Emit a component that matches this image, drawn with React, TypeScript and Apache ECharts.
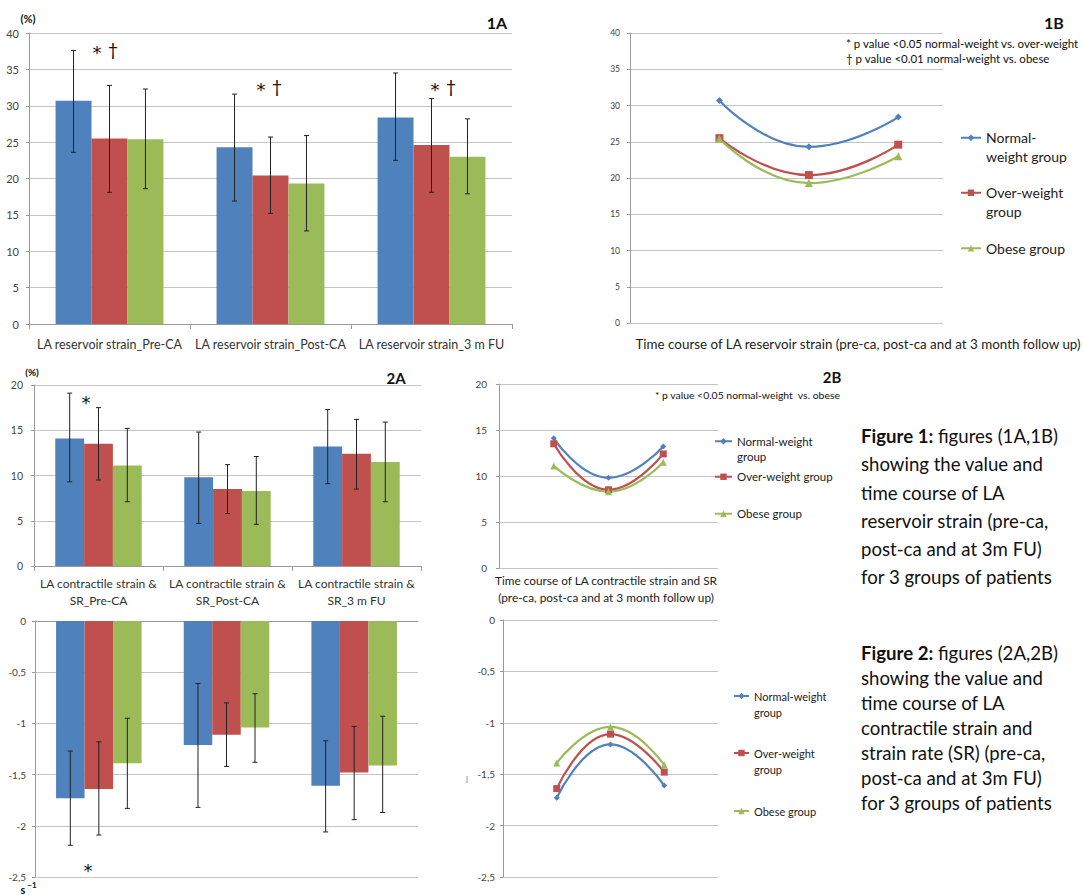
import React, { useEffect, useRef } from "react";
import * as echarts from "echarts";

const FONT = 'Lato, "Open Sans", sans-serif';
const STAR_FONT = '"DejaVu Sans", sans-serif';

// ---- Data ----
const groupNames = ["Normal-weight group", "Over-weight group", "Obese group"];
const groupColors = ["#4F81BD", "#C0504D", "#9BBB59"];
const groupSymbols = ["diamond", "rect", "triangle"];

const reservoirCategories = ["LA reservoir strain_Pre-CA", "LA reservoir strain_Post-CA", "LA reservoir strain_3 m FU"];
const reservoirNormal = [30.7, 24.3, 28.4];
const reservoirOver = [25.5, 20.4, 24.6];
const reservoirObese = [25.4, 19.3, 23.0];
const reservoirNormalErr = [[23.6, 37.6], [16.9, 31.6], [22.5, 34.5]];
const reservoirOverErr = [[18.1, 32.8], [15.2, 25.7], [18.1, 31.0]];
const reservoirObeseErr = [[18.6, 32.3], [12.8, 25.9], [17.9, 28.2]];

const contractileCategories = ["LA contractile strain &\nSR_Pre-CA", "LA contractile strain &\nSR_Post-CA", "LA contractile strain &\nSR_3 m FU"];
const contractileNormal = [14.1, 9.8, 13.2];
const contractileOver = [13.5, 8.5, 12.4];
const contractileObese = [11.1, 8.3, 11.5];
const contractileNormalErr = [[9.3, 19.1], [4.7, 14.8], [9.1, 17.3]];
const contractileOverErr = [[9.5, 17.5], [5.8, 11.2], [8.5, 16.2]];
const contractileObeseErr = [[7.1, 15.2], [4.6, 12.1], [7.1, 15.9]];

const srNormal = [-1.73, -1.21, -1.61];
const srOver = [-1.64, -1.11, -1.48];
const srObese = [-1.39, -1.04, -1.41];
const srNormalErr = [[-2.19, -1.27], [-1.82, -0.61], [-2.06, -1.17]];
const srOverErr = [[-2.09, -1.18], [-1.42, -0.8], [-1.94, -1.03]];
const srObeseErr = [[-1.83, -0.95], [-1.38, -0.71], [-1.87, -0.93]];

const legendLabels: Record<string, string> = {
  "1B Normal": " \nNormal-\nweight group",
  "1B Over": " \nOver-weight\ngroup",
  "1B Obese": "Obese group",
  "2Bt Normal": " \nNormal-weight\ngroup",
  "2Bt Over": "Over-weight group",
  "2Bt Obese": "Obese group",
  "2Bb Normal": " \nNormal-weight\ngroup",
  "2Bb Over": " \nOver-weight\ngroup",
  "2Bb Obese": "Obese group",
};

const AXIS_GRAY = "#9a9a9a";
const SPLIT_GRAY = "#c4c4c4";

function barSeries(name: string, grid: number, data: number[], gi: number) {
  return {
    type: "bar",
    name,
    xAxisIndex: grid,
    yAxisIndex: grid,
    data,
    barGap: "0%",
    barCategoryGap: "33%",
    itemStyle: { color: groupColors[gi] },
    z: 2,
  };
}

function errSeries(name: string, grid: number, errs: number[][], gi: number) {
  return {
    type: "custom",
    name,
    xAxisIndex: grid,
    yAxisIndex: grid,
    z: 5,
    data: errs.map((e, i) => [i, e[0], e[1]]),
    encode: { x: 0, y: [1, 2] },
    renderItem: (params: any, api: any) => {
      const idx = api.value(0);
      const lo = api.coord([idx, api.value(1)]);
      const hi = api.coord([idx, api.value(2)]);
      const band = api.size([1, 0])[0];
      const bw = (band * (1 - 0.33)) / 3;
      const cx = lo[0] + (gi - 1) * bw;
      const cap = 2.5;
      const st = { stroke: "#222", lineWidth: 1 };
      return {
        type: "group",
        children: [
          { type: "line", shape: { x1: cx, y1: hi[1], x2: cx, y2: lo[1] }, style: st },
          { type: "line", shape: { x1: cx - cap, y1: hi[1], x2: cx + cap, y2: hi[1] }, style: st },
          { type: "line", shape: { x1: cx - cap, y1: lo[1], x2: cx + cap, y2: lo[1] }, style: st },
        ],
      };
    },
  };
}

function lineSeries(name: string, grid: number, data: number[], gi: number, symSize: number) {
  return {
    type: "line",
    name,
    xAxisIndex: grid,
    yAxisIndex: grid,
    data: data.map((v, i) => [i + 1, v]),
    smooth: true,
    symbol: groupSymbols[gi],
    symbolSize: gi === 0 ? symSize - 1 : symSize,
    showSymbol: true,
    lineStyle: { color: groupColors[gi], width: 2.2 },
    itemStyle: { color: groupColors[gi] },
    z: 3,
  };
}

function catAxis(grid: number, data: string[], showLabels: boolean, fontSize: number, margin: number, lineHeight: number) {
  return {
    type: "category",
    gridIndex: grid,
    data,
    axisLine: { show: true, lineStyle: { color: AXIS_GRAY } },
    axisTick: { show: showLabels, length: 5, lineStyle: { color: AXIS_GRAY } },
    axisLabel: {
      show: showLabels,
      fontFamily: FONT,
      fontSize,
      color: "#333",
      margin,
      lineHeight,
      interval: 0,
    },
    splitLine: { show: false },
  };
}

function valXAxis(grid: number, max: number) {
  return {
    type: "value",
    gridIndex: grid,
    min: 0,
    max,
    axisLine: { show: false },
    axisTick: { show: false },
    axisLabel: { show: false },
    splitLine: { show: false },
  };
}

function valYAxis(grid: number, min: number, max: number, interval: number, fontSize: number, margin: number, comma: boolean) {
  return {
    type: "value",
    gridIndex: grid,
    min,
    max,
    interval,
    axisLine: { show: true, lineStyle: { color: AXIS_GRAY } },
    axisTick: { show: true, length: 3, lineStyle: { color: AXIS_GRAY } },
    axisLabel: {
      fontFamily: FONT,
      fontSize,
      color: "#444",
      margin,
      formatter: (v: number) => (comma ? String(v).replace(".", ",") : String(v)),
    },
    splitLine: { show: true, lineStyle: { color: SPLIT_GRAY, width: 1 } },
  };
}

function legendItem(name: string, left: number, top: number, itemWidth: number, fontSize: number, lineHeight: number) {
  return {
    data: [name],
    left,
    top,
    orient: "vertical",
    itemWidth,
    itemHeight: 8,
    padding: 0,
    selectedMode: false,
    formatter: (n: string) => legendLabels[n],
    textStyle: { fontFamily: FONT, fontSize, lineHeight, color: "#222" },
  };
}

function txt(text: string, x: number, y: number, fontSize: number, opts: any = {}) {
  return {
    type: "text",
    x,
    y,
    silent: true,
    style: {
      text,
      fill: opts.fill || "#111",
      fontSize,
      fontFamily: opts.font || FONT,
      fontWeight: opts.bold ? "bold" : "normal",
      align: opts.align || "center",
      verticalAlign: opts.valign || "middle",
      lineHeight: opts.lineHeight,
      rich: opts.rich,
    },
  };
}

export default function App() {
  const ref = useRef<HTMLDivElement>(null);
  useEffect(() => {
    if (!ref.current) return;
    const chart = echarts.init(ref.current, undefined, { renderer: "svg" });

    const fig1Text =
      "{b|Figure 1:} figures (1A,1B)\nshowing the value and\ntime course of LA\nreservoir strain (pre-ca,\npost-ca and at 3m FU)\nfor 3 groups of patients";
    const fig2Text =
      "{b|Figure 2:} figures (2A,2B)\nshowing the value and\ntime course of LA\ncontractile strain and\nstrain rate (SR) (pre-ca,\npost-ca and at 3m FU)\nfor 3 groups of patients";
    const BIG = 18.6;

    const option: any = {
      animation: false,
      backgroundColor: "#ffffff",
      grid: [
        { left: 29, top: 33, width: 483, height: 291 },
        { left: 630, top: 33, width: 313, height: 290 },
        { left: 34, top: 385, width: 387, height: 181 },
        { left: 499, top: 384, width: 219, height: 184 },
        { left: 35, top: 621, width: 383, height: 256 },
        { left: 503, top: 620, width: 215, height: 257 },
      ],
      xAxis: [
        catAxis(0, reservoirCategories, true, 12.5, 12, 16),
        valXAxis(1, 3.5),
        catAxis(2, contractileCategories, true, 12, 9, 17),
        valXAxis(3, 4),
        catAxis(4, contractileCategories, false, 12, 8, 16),
        valXAxis(5, 4),
      ],
      yAxis: [
        valYAxis(0, 0, 40, 5, 11, 10, false),
        valYAxis(1, 0, 40, 5, 8.5, 10, false),
        valYAxis(2, 0, 20, 5, 10.5, 11, false),
        valYAxis(3, 0, 20, 5, 10, 12, false),
        valYAxis(4, -2.5, 0, 0.5, 10, 9, true),
        valYAxis(5, -2.5, 0, 0.5, 10, 8, true),
      ],
      legend: [
        legendItem("1B Normal", 960, 110, 20, 14, 18.5),
        legendItem("1B Over", 960, 165, 20, 14, 18.5),
        legendItem("1B Obese", 960, 239, 20, 14, 18.5),
        legendItem("2Bt Normal", 714, 418, 17, 11.5, 15.5),
        legendItem("2Bt Over", 714, 469, 17, 11.5, 15.5),
        legendItem("2Bt Obese", 714, 506, 17, 11.5, 15.5),
        legendItem("2Bb Normal", 733, 672, 15, 11, 16),
        legendItem("2Bb Over", 733, 729, 15, 11, 16),
        legendItem("2Bb Obese", 733, 803, 15, 11, 16),
      ],
      series: [
        barSeries("1A " + groupNames[0], 0, reservoirNormal, 0),
        barSeries("1A " + groupNames[1], 0, reservoirOver, 1),
        barSeries("1A " + groupNames[2], 0, reservoirObese, 2),
        errSeries("1A err0", 0, reservoirNormalErr, 0),
        errSeries("1A err1", 0, reservoirOverErr, 1),
        errSeries("1A err2", 0, reservoirObeseErr, 2),

        lineSeries("1B Normal", 1, reservoirNormal, 0, 8),
        lineSeries("1B Over", 1, reservoirOver, 1, 8),
        lineSeries("1B Obese", 1, reservoirObese, 2, 8),

        barSeries("2A " + groupNames[0], 2, contractileNormal, 0),
        barSeries("2A " + groupNames[1], 2, contractileOver, 1),
        barSeries("2A " + groupNames[2], 2, contractileObese, 2),
        errSeries("2A err0", 2, contractileNormalErr, 0),
        errSeries("2A err1", 2, contractileOverErr, 1),
        errSeries("2A err2", 2, contractileObeseErr, 2),

        lineSeries("2Bt Normal", 3, contractileNormal, 0, 7),
        lineSeries("2Bt Over", 3, contractileOver, 1, 7),
        lineSeries("2Bt Obese", 3, contractileObese, 2, 7),

        barSeries("SR " + groupNames[0], 4, srNormal, 0),
        barSeries("SR " + groupNames[1], 4, srOver, 1),
        barSeries("SR " + groupNames[2], 4, srObese, 2),
        errSeries("SR err0", 4, srNormalErr, 0),
        errSeries("SR err1", 4, srOverErr, 1),
        errSeries("SR err2", 4, srObeseErr, 2),

        lineSeries("2Bb Normal", 5, srNormal, 0, 7),
        lineSeries("2Bb Over", 5, srOver, 1, 7),
        lineSeries("2Bb Obese", 5, srObese, 2, 7),
      ],
      graphic: [
        txt("(%)", 28, 18, 11, { bold: true }),
        txt("1A", 497, 22, 16, { bold: true }),
        txt("1B", 1054, 22, 16, { bold: true }),
        txt("2A", 396, 378, 15, { bold: true }),
        txt("2B", 832, 377, 15, { bold: true }),
        txt("*", 97, 52, 18, { font: STAR_FONT }),
        txt("†", 113, 49, 18),
        txt("*", 261, 89, 18, { font: STAR_FONT }),
        txt("†", 277, 86, 18),
        txt("*", 435, 89, 18, { font: STAR_FONT }),
        txt("†", 451, 86, 18),
        txt("* p value <0.05 normal-weight vs. over-weight", 846, 43, 11.5, { align: "left" }),
        txt("† p value <0.01 normal-weight vs. obese", 846, 58, 11.5, { align: "left" }),
        txt("Time course of LA reservoir strain (pre-ca, post-ca and at 3 month follow up)", 858, 344, 13.4, { fill: "#222" }),
        txt("(%)", 32, 372, 10, { bold: true }),
        txt("*", 86, 402, 18, { font: STAR_FONT }),
        txt("* p value <0.05 normal-weight  vs. obese", 655, 395, 10.4, { align: "left" }),
        txt("Time course of LA contractile strain and SR\n(pre-ca, post-ca and at 3 month follow up)", 606, 589, 11.8, { fill: "#222", lineHeight: 17 }),
        txt("*", 88, 870, 18, { font: STAR_FONT }),
        txt("s", 23, 889.5, 11, { bold: true }),
        txt("−1", 32, 885, 8, { bold: true }),
        {
          type: "line",
          silent: true,
          shape: { x1: 467, y1: 776, x2: 467, y2: 783 },
          style: { stroke: "#999", lineWidth: 1 },
        },
        {
          type: "text",
          x: 861,
          y: 422,
          silent: true,
          style: {
            text: fig1Text,
            fill: "#111",
            fontSize: BIG,
            fontFamily: FONT,
            lineHeight: 28.2,
            align: "left",
            verticalAlign: "top",
            rich: { b: { fontWeight: "bold", fontSize: BIG, fontFamily: FONT, lineHeight: 28.2, fill: "#111" } },
          },
        },
        {
          type: "text",
          x: 861,
          y: 640.5,
          silent: true,
          style: {
            text: fig2Text,
            fill: "#111",
            fontSize: BIG,
            fontFamily: FONT,
            lineHeight: 25,
            align: "left",
            verticalAlign: "top",
            rich: { b: { fontWeight: "bold", fontSize: BIG, fontFamily: FONT, lineHeight: 25, fill: "#111" } },
          },
        },
      ],
    };

    chart.setOption(option);
    return () => chart.dispose();
  }, []);

  return (
    <div
      ref={ref}
      style={{ position: "fixed", left: 0, top: 0, width: 1083, height: 895, background: "#fff" }}
    />
  );
}
